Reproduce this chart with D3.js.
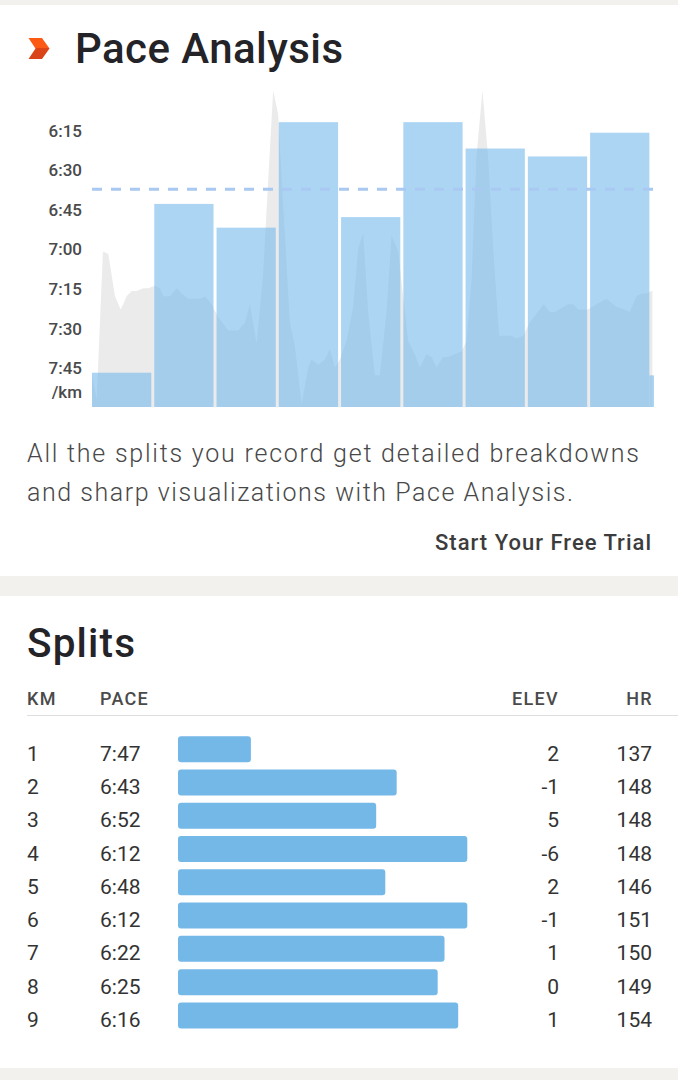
<!DOCTYPE html>
<html>
<head>
<meta charset="utf-8">
<script src="https://cdn.jsdelivr.net/npm/d3@7"></script>
<style>
  html, body { margin: 0; padding: 0; background: #fff; }
  svg { display: block; }
  text { font-family: Roboto, "Noto Sans", sans-serif; }
</style>
</head>
<body>
<svg id="chart" width="678" height="1080"></svg>
<script>
// ---------------- DATA ----------------
const splitKm   = [1, 2, 3, 4, 5, 6, 7, 8, 9];
const splitPace = ["7:47", "6:43", "6:52", "6:12", "6:48", "6:12", "6:22", "6:25", "6:16"];
const splitElev = [2, -1, 5, -6, 2, -1, 1, 0, 1];
const splitHr   = [137, 148, 148, 148, 146, 151, 150, 149, 154];

// final partial kilometre
const partialDist = 0.05;
const partialPace = "7:48";

// pace axis tick labels (seconds per km)
const paceTicks = ["6:15", "6:30", "6:45", "7:00", "7:15", "7:30", "7:45"];
const paceUnit = "/km";

// continuous pace stream: distance (km) and pace (seconds per km)
const streamKm = [0.024, 0.10, 0.20, 0.286, 0.393, 0.485, 0.581, 0.661, 0.742, 0.848, 0.928,
  1.035, 1.116, 1.169, 1.276, 1.384, 1.464, 1.570, 1.758, 1.838, 1.945,
  2.051, 2.212, 2.372, 2.480, 2.560, 2.668, 2.774, 2.854, 2.934,
  3.014, 3.095, 3.202, 3.283, 3.390, 3.496, 3.551, 3.657, 3.764, 3.844, 3.924,
  4.005, 4.112, 4.218, 4.299, 4.379, 4.459, 4.567, 4.647, 4.754, 4.835, 4.941,
  5.021, 5.101, 5.209, 5.289, 5.396, 5.477, 5.557, 5.663, 5.743, 5.851, 5.958,
  6.039, 6.119, 6.199, 6.295, 6.385, 6.465, 6.562, 6.653, 6.761, 6.841, 6.947,
  7.055, 7.279, 7.376, 7.456, 7.669, 7.750, 7.830, 7.990,
  8.125, 8.286, 8.446, 8.579, 8.660, 8.767, 8.847, 8.928, 9.008, 9.024];
const streamPace = [468, 477, 421, 422, 438, 443, 438, 436, 436, 435, 435,
  434, 435, 438, 438, 435, 437, 439, 439, 438, 441,
  446, 451, 451, 448, 441, 456, 429, 394, 360,
  369, 404, 448, 457, 479, 465, 462, 464, 462, 458, 465,
  462, 455, 442, 420, 414, 444, 468, 468, 444, 415, 421,
  438, 455, 460, 465, 460, 461, 465, 461, 461, 460, 459,
  455, 432, 385, 360, 385, 419, 453, 453, 453, 454, 453,
  448, 441, 444, 444, 441, 441, 443, 443,
  441, 439, 442, 443, 444, 438, 437, 437, 436, 436];

// ---------------- HELPERS ----------------
const toSec = s => { const [m, ss] = s.split(":").map(Number); return m * 60 + ss; };
const paceSec = splitPace.map(toSec);

const svg = d3.select("#chart");
const FONT = "Roboto, 'Noto Sans', sans-serif";

// background bands
const bandColor = "#f2f1ed";
svg.append("rect").attr("x", 0).attr("y", 0).attr("width", 678).attr("height", 5).attr("fill", bandColor);
svg.append("rect").attr("x", 0).attr("y", 576).attr("width", 678).attr("height", 20).attr("fill", bandColor);
svg.append("rect").attr("x", 0).attr("y", 1068).attr("width", 678).attr("height", 12).attr("fill", bandColor);

// ---------------- PACE ANALYSIS HEADER ----------------
const grad = svg.append("defs").append("linearGradient")
  .attr("id", "chevGrad").attr("x1", 0).attr("y1", 0).attr("x2", 0).attr("y2", 1);
grad.append("stop").attr("offset", "0%").attr("stop-color", "#fc5a14");
grad.append("stop").attr("offset", "50%").attr("stop-color", "#fc5a14");
grad.append("stop").attr("offset", "50%").attr("stop-color", "#dc4416");
grad.append("stop").attr("offset", "100%").attr("stop-color", "#d8431a");
svg.append("path")
  .attr("d", "M28.5,38 L42,38 L49.5,48.5 L42,59 L28.5,59 L35.5,48.5 Z")
  .attr("fill", "url(#chevGrad)");

svg.append("text").attr("x", 75).attr("y", 63)
  .attr("font-size", 42).attr("font-weight", 500).attr("fill", "#242428")
  .attr("textLength", 268).attr("lengthAdjust", "spacing")
  .text("Pace Analysis");

// ---------------- PACE CHART ----------------
const totalDist = splitKm.length + partialDist;
const x = d3.scaleLinear().domain([0, totalDist]).range([90.5, 654]);
const y = d3.scaleLinear().domain([360, 480]).range([90.5, 407]);
const yBottom = y(480);

const plot = svg.append("g");

// gray pace stream area
const streamData = streamKm.map((d, i) => ({ d, p: streamPace[i] }));
plot.append("path")
  .datum(streamData)
  .attr("fill", "#ebebeb")
  .attr("d", d3.area().x(v => x(v.d)).y0(yBottom).y1(v => y(v.p)).curve(d3.curveLinear));

// split bars
const barData = paceSec.map((p, i) => ({ start: i, end: i + 1, p }));
plot.selectAll("rect.split").data(barData).join("rect")
  .attr("class", "split")
  .attr("x", d => x(d.start) + 1.5)
  .attr("width", d => x(d.end) - x(d.start) - 3)
  .attr("y", d => y(d.p))
  .attr("height", d => yBottom - y(d.p))
  .attr("fill", "#74b9ec").attr("fill-opacity", 0.6);

// partial km sliver
plot.append("rect")
  .attr("x", x(splitKm.length) - 1.5)
  .attr("width", x(totalDist) - x(splitKm.length) + 1.5)
  .attr("y", y(toSec(partialPace)))
  .attr("height", yBottom - y(toSec(partialPace)))
  .attr("fill", "#74b9ec").attr("fill-opacity", 0.6);

// average pace dashed line
const avgPace = d3.mean(paceSec);
plot.append("line")
  .attr("x1", x(0) + 1.5).attr("x2", x(totalDist) - 1)
  .attr("y1", y(avgPace)).attr("y2", y(avgPace))
  .attr("stroke", "#a9c9f2").attr("stroke-width", 3)
  .attr("stroke-dasharray", "10,9");

// y axis tick labels
const yAxis = d3.axisLeft(y)
  .tickValues(paceTicks.map(toSec))
  .tickFormat((v, i) => paceTicks[i])
  .tickSize(0).tickPadding(0);
const axG = svg.append("g").attr("transform", "translate(82,0)").call(yAxis);
axG.select(".domain").remove();
axG.selectAll("text")
  .attr("font-family", FONT).attr("font-size", 17).attr("font-weight", 500)
  .attr("fill", "#4a4a4a").attr("dy", "0.36em");
svg.append("text").attr("x", 82).attr("y", y(toSec(paceTicks[paceTicks.length - 1])) + 24)
  .attr("dy", "0.36em").attr("text-anchor", "end")
  .attr("font-size", 17).attr("font-weight", 500).attr("fill", "#4a4a4a")
  .text(paceUnit);

// description
const desc = ["All the splits you record get detailed breakdowns",
              "and sharp visualizations with Pace Analysis."];
const descWidth = [612, 546];
svg.append("g").selectAll("text").data(desc).join("text")
  .attr("x", 27).attr("y", (d, i) => 462 + i * 38.5)
  .attr("font-size", 25).attr("font-weight", 300).attr("fill", "#484848")
  .attr("textLength", (d, i) => descWidth[i]).attr("lengthAdjust", "spacing")
  .text(d => d);

svg.append("text").attr("x", 435).attr("y", 550)
  .attr("font-size", 22).attr("font-weight", 500).attr("fill", "#3c3c3c")
  .attr("textLength", 216).attr("lengthAdjust", "spacing")
  .text("Start Your Free Trial");

// ---------------- SPLITS TABLE ----------------
svg.append("text").attr("x", 27).attr("y", 656.5)
  .attr("font-size", 40.5).attr("font-weight", 500).attr("fill", "#242428")
  .attr("textLength", 108).attr("lengthAdjust", "spacing")
  .text("Splits");

const header = [
  { t: "KM", x: 27, a: "start" },
  { t: "PACE", x: 100, a: "start" },
  { t: "ELEV", x: 559, a: "end" },
  { t: "HR", x: 653, a: "end" }
];
svg.append("g").selectAll("text").data(header).join("text")
  .attr("x", d => d.x).attr("y", 705).attr("text-anchor", d => d.a)
  .attr("font-size", 18).attr("font-weight", 500).attr("fill", "#4a4a4a")
  .attr("letter-spacing", 1.3)
  .text(d => d.t);

svg.append("line").attr("x1", 27).attr("x2", 678).attr("y1", 715.5).attr("y2", 715.5)
  .attr("stroke", "#dedede").attr("stroke-width", 1);

const rowY = d3.scaleLinear().domain([1, 9]).range([749.2, 1015.4]);
const barW = d3.scaleLinear().domain([499, 372]).range([0, 289.3]);

const rows = svg.append("g").selectAll("g").data(splitKm).join("g")
  .attr("transform", d => `translate(0,${rowY(d)})`);

rows.append("rect")
  .attr("x", 178).attr("y", -13).attr("height", 26)
  .attr("width", (d, i) => barW(paceSec[i]))
  .attr("rx", 3).attr("fill", "#74b8e8");

const rowText = rows.append("g")
  .attr("font-size", 21).attr("font-weight", 400).attr("fill", "#333");
rowText.append("text").attr("x", 27).attr("y", 11.5).text(d => d);
rowText.append("text").attr("x", 100).attr("y", 11.5).text((d, i) => splitPace[i]);
rowText.append("text").attr("x", 559).attr("y", 11.5).attr("text-anchor", "end").text((d, i) => splitElev[i]);
rowText.append("text").attr("x", 652).attr("y", 11.5).attr("text-anchor", "end").text((d, i) => splitHr[i]);
</script>
</body>
</html>
